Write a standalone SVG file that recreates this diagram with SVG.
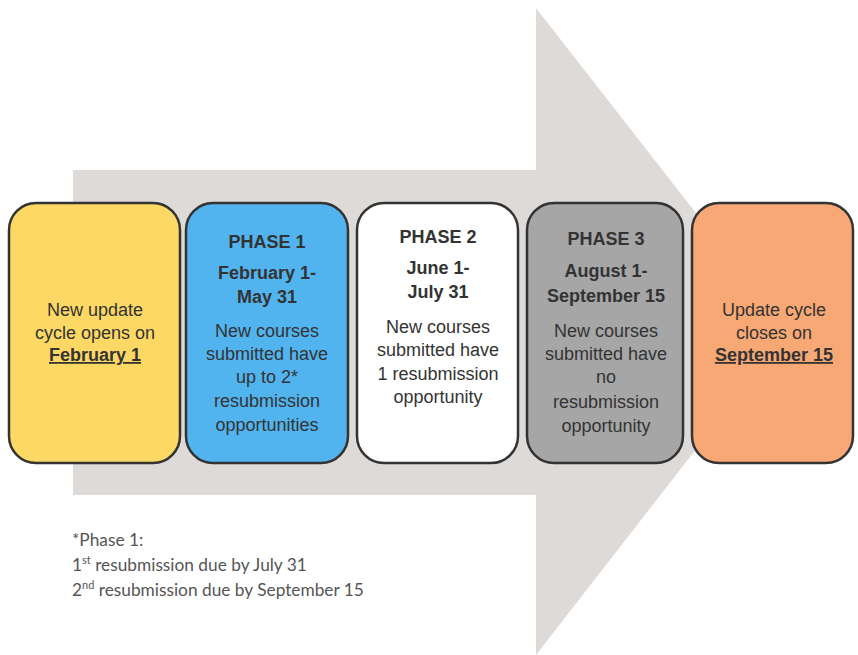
<svg xmlns="http://www.w3.org/2000/svg" width="858" height="655" viewBox="0 0 858 655">
  <style>
    .box { stroke: #333333; stroke-width: 2.5; }
    .t { font-family: "Liberation Sans", Arial, sans-serif; font-size: 18px; text-anchor: middle; fill: #333333; }
    .b { font-weight: bold; }
    .u { font-weight: bold; text-decoration: underline; }
    .note { font-family: Lato, "Liberation Sans", sans-serif; font-size: 17.3px; fill: #555555; }
    .sup { font-size: 11px; }
  </style>
  <rect width="858" height="655" fill="#ffffff"/>

  <!-- big background arrow -->
  <g id="arrow">
    <path d="M73,170 L536,170 L536,8 L788,331 L536,655 L536,495 L73,495 Z" fill="#dddad7"/>
  </g>

  <g id="start">
    <rect class="box" x="9" y="203" width="171" height="260" rx="27" fill="#fdd865"/>
    <text class="t" x="95" y="316">New update</text>
    <text class="t" x="95" y="339">cycle opens on</text>
    <text class="t u" x="95" y="361">February 1</text>
  </g>

  <g id="phase1">
    <rect class="box" x="186" y="203" width="162" height="260" rx="27" fill="#52b4ef"/>
    <text class="t b" x="267" y="248">PHASE 1</text>
    <text class="t b" x="267" y="279">February 1-</text>
    <text class="t b" x="267" y="303">May 31</text>
    <text class="t" x="267" y="337">New courses</text>
    <text class="t" x="267" y="360">submitted have</text>
    <text class="t" x="267" y="383">up to 2*</text>
    <text class="t" x="267" y="407">resubmission</text>
    <text class="t" x="267" y="431">opportunities</text>
  </g>

  <g id="phase2">
    <rect class="box" x="357" y="203" width="161" height="260" rx="27" fill="#ffffff"/>
    <text class="t b" x="438" y="243">PHASE 2</text>
    <text class="t b" x="438" y="274">June 1-</text>
    <text class="t b" x="438" y="298">July 31</text>
    <text class="t" x="438" y="333">New courses</text>
    <text class="t" x="438" y="356">submitted have</text>
    <text class="t" x="438" y="380">1 resubmission</text>
    <text class="t" x="438" y="403">opportunity</text>
  </g>

  <g id="phase3">
    <rect class="box" x="527" y="203" width="156" height="260" rx="27" fill="#a6a6a6"/>
    <text class="t b" x="606" y="245">PHASE 3</text>
    <text class="t b" x="606" y="277">August 1-</text>
    <text class="t b" x="606" y="302">September 15</text>
    <text class="t" x="606" y="337">New courses</text>
    <text class="t" x="606" y="360">submitted have</text>
    <text class="t" x="606" y="383">no</text>
    <text class="t" x="606" y="408">resubmission</text>
    <text class="t" x="606" y="432">opportunity</text>
  </g>

  <g id="end">
    <rect class="box" x="692" y="203" width="161" height="260" rx="27" fill="#f7a874"/>
    <text class="t" x="774" y="316">Update cycle</text>
    <text class="t" x="774" y="339">closes on</text>
    <text class="t u" x="774" y="361">September 15</text>
  </g>

  <g id="connectors"></g>

  <g id="footnote">
    <text class="note" x="72" y="546">*Phase 1:</text>
    <text class="note" x="72" y="571">1<tspan class="sup" dy="-7">st</tspan><tspan dy="7"> resubmission due by July 31</tspan></text>
    <text class="note" x="72" y="596">2<tspan class="sup" dy="-7">nd</tspan><tspan dy="7"> resubmission due by September 15</tspan></text>
  </g>
</svg>
